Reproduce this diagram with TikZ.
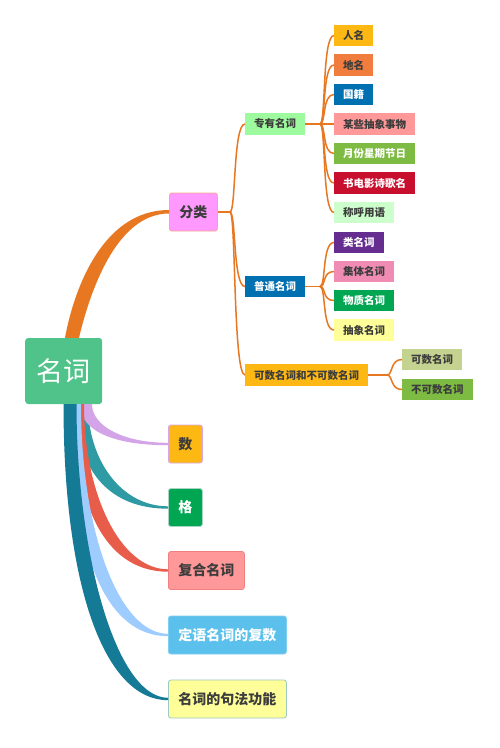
\documentclass[tikz,border=0pt]{standalone}
\usepackage{fontspec}
\usepackage{tikz}
\newfontfamily\cjk{Noto Sans CJK SC}
\definecolor{orng}{HTML}{E87722}
\definecolor{rootgreen}{HTML}{50C38A}
\definecolor{darktxt}{HTML}{3C3C3C}
\definecolor{brpurple}{HTML}{D3A4E8}
\definecolor{brteal}{HTML}{2E9AA3}
\definecolor{brred}{HTML}{E85D4A}
\definecolor{brblue}{HTML}{9FCCFF}
\definecolor{brdark}{HTML}{157A96}
\definecolor{pinkfill}{HTML}{FF99FF}
\definecolor{pinkline}{HTML}{F5A88A}
\definecolor{amber}{HTML}{FDB813}
\definecolor{amberline}{HTML}{D9A6E6}
\definecolor{green}{HTML}{00A651}
\definecolor{greenline}{HTML}{A8D5C8}
\definecolor{salmon}{HTML}{FF9999}
\definecolor{salmonline}{HTML}{F08080}
\definecolor{sky}{HTML}{5BC0EB}
\definecolor{skyline}{HTML}{7FCFF0}
\definecolor{lemon}{HTML}{FFFF99}
\definecolor{lemonline}{HTML}{9DC9C0}
\definecolor{mint}{HTML}{9EFA9E}
\definecolor{navy}{HTML}{0070B0}
\definecolor{tangerine}{HTML}{F07C3E}
\definecolor{leaf}{HTML}{7DBB42}
\definecolor{crimson}{HTML}{C8102E}
\definecolor{palemint}{HTML}{CCFFCC}
\definecolor{grape}{HTML}{662D91}
\definecolor{rose}{HTML}{F08CB4}
\definecolor{olive}{HTML}{C4D38F}

\begin{document}
\begin{tikzpicture}[x=1pt,y=-1pt,
	root/.style={anchor=west,fill=rootgreen,rounded corners=3pt,minimum width=77pt,minimum height=66pt,text=white,font=\cjk\fontsize{27}{30}\selectfont},
	lvone/.style={anchor=west,rounded corners=2.5pt,minimum height=38pt,inner xsep=10pt,line width=0.8pt,text=darktxt,font=\cjk\bfseries\fontsize{14}{16}\selectfont},
	lvtwo/.style={anchor=west,minimum height=21.5pt,inner xsep=9pt,text=darktxt,font=\cjk\bfseries\fontsize{10.5}{12}\selectfont},
	lnk/.style={draw=orng,line width=1.5pt}]
		\useasboundingbox[fill=white] (0,0) rectangle (500,748);
		% thin connectors
		\coordinate (flj) at (230,212);
		\coordinate (zyj) at (320,124);
		\coordinate (ptj) at (320,286.5);
		\coordinate (ksj) at (387,375);
		\node[root] (mc) at (25,371) {名词};
		\node[lvone,fill=pinkfill,draw=pinkline] (fl) at (169,212) {分类};
		\node[lvone,fill=amber,draw=amberline] (sh) at (168,444) {数};
		\node[lvone,fill=green,draw=greenline,text=white] (ge) at (168,507.5) {格};
		\node[lvone,fill=salmon,draw=salmonline] (fh) at (168,570.5) {复合名词};
		\node[lvone,fill=sky,draw=skyline,text=white] (dy) at (168,635) {定语名词的复数};
		\node[lvone,fill=lemon,draw=lemonline] (jf) at (168,699) {名词的句法功能};
		% second level
		\node[lvtwo,fill=mint] (zy) at (245,124) {专有名词};
		\node[lvtwo,fill=navy,text=white] (pt) at (245,286.5) {普通名词};
		\node[lvtwo,fill=amber] (ks) at (245,375) {可数名词和不可数名词};
		% third level
		\node[lvtwo,fill=amber] (rm) at (334,35.5) {人名};
		\node[lvtwo,fill=tangerine] (dm) at (334,65) {地名};
		\node[lvtwo,fill=navy,text=white] (gj) at (334,94.5) {国籍};
		\node[lvtwo,fill=salmon] (cx) at (334,124) {某些抽象事物};
		\node[lvtwo,fill=leaf,text=white] (yf) at (334,153.5) {月份星期节日};
		\node[lvtwo,fill=crimson,text=white] (sd) at (334,183) {书电影诗歌名};
		\node[lvtwo,fill=palemint] (ch) at (334,212.5) {称呼用语};
		\node[lvtwo,fill=grape,text=white] (lm) at (334,242.5) {类名词};
		\node[lvtwo,fill=rose] (jt) at (334,271.5) {集体名词};
		\node[lvtwo,fill=green,text=white] (wz) at (334,300.5) {物质名词};
		\node[lvtwo,fill=lemon] (cm) at (334,330) {抽象名词};
		\node[lvtwo,fill=olive] (km) at (402,359.5) {可数名词};
		\node[lvtwo,fill=leaf] (bk) at (402,389.5) {不可数名词};
		% thick branches
		\fill[orng] ([xshift=40pt]mc.north west) .. controls +(10,-54) and +(-64,0) .. ([yshift=2pt]fl.west)
			-- ([yshift=-1.5pt]fl.west) .. controls +(-54,0) and +(10,-42) .. ([xshift=54pt]mc.north west) -- cycle;
		\foreach \n/\c/\sx/\hw/\dy/\dx in {ge/brteal/57/6/62/52, sh/brpurple/61/6/24/50, fh/brred/54/5/100/53, dy/brblue/51/5/140/55, jf/brdark/45/6.5/165/58}
			\fill[\c] ([xshift={(\sx-\hw)*1pt}]mc.south west) .. controls +(0,{\dy*1.1}) and +({-\dx*1.1},0) .. ([yshift=-1.2pt]\n.west)
				-- ([yshift=1.2pt]\n.west) .. controls +({-\dx*0.9},0) and +(0,{\dy*0.9}) .. ([xshift={(\sx+\hw)*1pt}]mc.south west) -- cycle;
		\draw[lnk] (fl.east) -- (flj);
		\draw[lnk] (zy.east) -- (zyj);
		\draw[lnk] (pt.east) -- (ptj);
		\draw[lnk] (ks.east) -- (ksj);
		\foreach \c in {zy,pt,ks}
			\draw[lnk] (flj) .. controls +(6,0) and +(-12,0) .. (\c.west);
		\foreach \c in {rm,dm,gj,cx,yf,sd,ch}
			\draw[lnk] (zyj) .. controls +(6,0) and +(-12,0) .. (\c.west);
		\foreach \c in {lm,jt,wz,cm}
			\draw[lnk] (ptj) .. controls +(6,0) and +(-12,0) .. (\c.west);
		\foreach \c in {km,bk}
			\draw[lnk] (ksj) .. controls +(6,0) and +(-12,0) .. (\c.west);
	\end{tikzpicture}
\end{document}
